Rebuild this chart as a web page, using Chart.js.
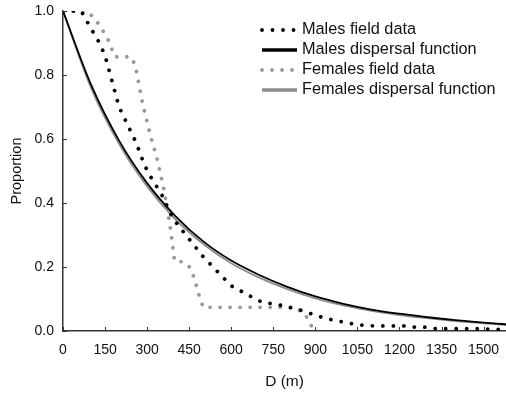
<!DOCTYPE html>
<html>
<head>
<meta charset="utf-8">
<script src="https://cdn.jsdelivr.net/npm/chart.js@4.4.1/dist/chart.umd.min.js"></script>
<style>
  html, body { margin: 0; padding: 0; background: #fff; }
  #wrap { width: 506px; height: 393px; }
</style>
</head>
<body>
<div id="wrap"><canvas id="myChart"></canvas></div>
<script>
// distance D (m) and proportion
const maleFieldD = [0, 65, 100, 130, 150, 175, 200, 230, 260, 290, 310, 350, 390, 420, 470, 500, 540, 570, 605, 645, 680, 715, 750, 790, 820, 860, 900, 935, 970, 1005, 1040, 1080, 1110, 1220, 1255, 1300, 1330, 1480, 1600];
const maleFieldP = [1.0, 1.0, 0.945, 0.90, 0.86, 0.78, 0.70, 0.645, 0.59, 0.52, 0.485, 0.43, 0.355, 0.32, 0.265, 0.232, 0.196, 0.168, 0.138, 0.12, 0.103, 0.088, 0.085, 0.078, 0.071, 0.062, 0.049, 0.04, 0.033, 0.027, 0.021, 0.017, 0.016, 0.016, 0.012, 0.012, 0.007, 0.007, 0.004];

const femaleFieldD = [0, 85, 115, 135, 160, 185, 242, 258, 285, 313, 335, 360, 384, 398, 430, 455, 468, 488, 500, 820, 856, 880, 892];
const femaleFieldP = [1.0, 1.0, 0.975, 0.948, 0.912, 0.857, 0.857, 0.83, 0.706, 0.607, 0.54, 0.443, 0.316, 0.218, 0.216, 0.197, 0.165, 0.103, 0.074, 0.074, 0.06, 0.03, 0.0];

const functionD = [0, 100, 200, 300, 400, 500, 600, 700, 800, 900, 1000, 1100, 1200, 1300, 1400, 1500, 1600];
const maleFunctionP = [1.0, 0.77, 0.595, 0.462, 0.36, 0.28, 0.22, 0.175, 0.138, 0.108, 0.085, 0.067, 0.054, 0.043, 0.034, 0.026, 0.02];
const femaleFunctionP = [1.0, 0.76, 0.585, 0.452, 0.35, 0.272, 0.212, 0.167, 0.131, 0.102, 0.08, 0.063, 0.05, 0.04, 0.031, 0.024, 0.018];

const labels = ["Males field data", "Males dispersal function", "Females field data", "Females dispersal function"];

const FONT = "'Liberation Sans', Arial, sans-serif";
const AXIS = "#333";

function toPoints(xs, ys) {
  return xs.map((x, i) => ({ x: x, y: ys[i] }));
}

// small inward tick marks, like the original figure
const innerTicks = {
  id: "innerTicks",
  afterDraw(chart) {
    const ctx = chart.ctx;
    const xs = chart.scales.x;
    const ys = chart.scales.y;
    ctx.save();
    ctx.strokeStyle = AXIS;
    ctx.lineWidth = 1;
    xs.ticks.forEach((t) => {
      const px = Math.round(xs.getPixelForValue(t.value)) + 0.5;
      ctx.beginPath();
      ctx.moveTo(px, xs.top);
      ctx.lineTo(px, xs.top - 4);
      ctx.stroke();
    });
    ys.ticks.forEach((t) => {
      const py = Math.round(ys.getPixelForValue(t.value)) + 0.5;
      ctx.beginPath();
      ctx.moveTo(ys.right, py);
      ctx.lineTo(ys.right + 4, py);
      ctx.stroke();
    });
    ctx.restore();
  },
};

// legend drawn as a column in the upper right
const legendColumn = {
  id: "legendColumn",
  afterDraw(chart) {
    const ctx = chart.ctx;
    ctx.save();
    ctx.font = "16.3px " + FONT;
    ctx.textBaseline = "middle";
    ctx.fillStyle = "#111";
    chart.data.datasets.forEach((ds, i) => {
      const y = 30 + i * 20;
      ctx.beginPath();
      ctx.strokeStyle = ds.borderColor;
      ctx.lineWidth = ds.borderWidth + (ds.borderDash ? 0 : 1.5);
      ctx.lineCap = ds.borderDash ? "round" : "butt";
      ctx.setLineDash(ds.borderDash || []);
      ctx.moveTo(262, y);
      ctx.lineTo(297, y);
      ctx.stroke();
      ctx.setLineDash([]);
      ctx.fillText(ds.label, 302, y);
    });
    ctx.restore();
  },
};

const ctx = document.getElementById("myChart");

const myChart = new Chart(ctx, {
  type: "line",
  data: {
    datasets: [
      {
        label: labels[0],
        data: toPoints(maleFieldD, maleFieldP),
        borderColor: "#000",
        borderWidth: 3.8,
        borderDash: [0.01, 10.5],
        borderCapStyle: "round",
        pointRadius: 0,
        tension: 0,
        fill: false,
      },
      {
        label: labels[1],
        data: toPoints(functionD, maleFunctionP),
        borderColor: "#000",
        borderWidth: 1.8,
        pointRadius: 0,
        cubicInterpolationMode: "monotone",
        fill: false,
      },
      {
        label: labels[2],
        data: toPoints(femaleFieldD, femaleFieldP),
        borderColor: "#999",
        borderWidth: 3.8,
        borderDash: [0.01, 10],
        borderCapStyle: "round",
        pointRadius: 0,
        tension: 0,
        fill: false,
      },
      {
        label: labels[3],
        data: toPoints(functionD, femaleFunctionP),
        borderColor: "#8c8c8c",
        borderWidth: 1.8,
        pointRadius: 0,
        cubicInterpolationMode: "monotone",
        fill: false,
      },
    ],
  },
  options: {
    responsive: true,
    maintainAspectRatio: false,
    animation: false,
    layout: {
      padding: { top: 11, right: 0, left: 0, bottom: 0 },
    },
    plugins: {
      legend: { display: false },
      tooltip: { enabled: false },
    },
    scales: {
      x: {
        type: "linear",
        min: 0,
        max: 1580,
        afterFit: (s) => {
          s.height = 62;
          s.paddingLeft = 0;
          s.paddingRight = 0;
        },
        ticks: {
          stepSize: 150,
          includeBounds: false,
          autoSkip: false,
          maxRotation: 0,
          color: "#111",
          padding: 11,
          font: { family: FONT, size: 14 },
          callback: (v) => String(v),
        },
        grid: { display: false, drawTicks: false },
        border: { display: true, color: AXIS, width: 1.5 },
        title: {
          display: true,
          text: "D (m)",
          color: "#111",
          font: { family: FONT, size: 15.5 },
          padding: { top: 0, bottom: 2 },
        },
      },
      y: {
        type: "linear",
        min: 0,
        max: 1,
        afterFit: (s) => {
          s.width = 63;
          s.paddingTop = 0;
          s.paddingBottom = 0;
        },
        ticks: {
          stepSize: 0.2,
          color: "#111",
          padding: 9,
          font: { family: FONT, size: 14 },
          callback: (v) => v.toFixed(1),
        },
        grid: { display: false, drawTicks: false },
        border: { display: true, color: AXIS, width: 1.5 },
        title: {
          display: true,
          text: "Proportion",
          color: "#111",
          font: { family: FONT, size: 14.5 },
          padding: { top: 8, bottom: 0 },
        },
      },
    },
  },
  plugins: [innerTicks, legendColumn],
});
</script>
</body>
</html>
